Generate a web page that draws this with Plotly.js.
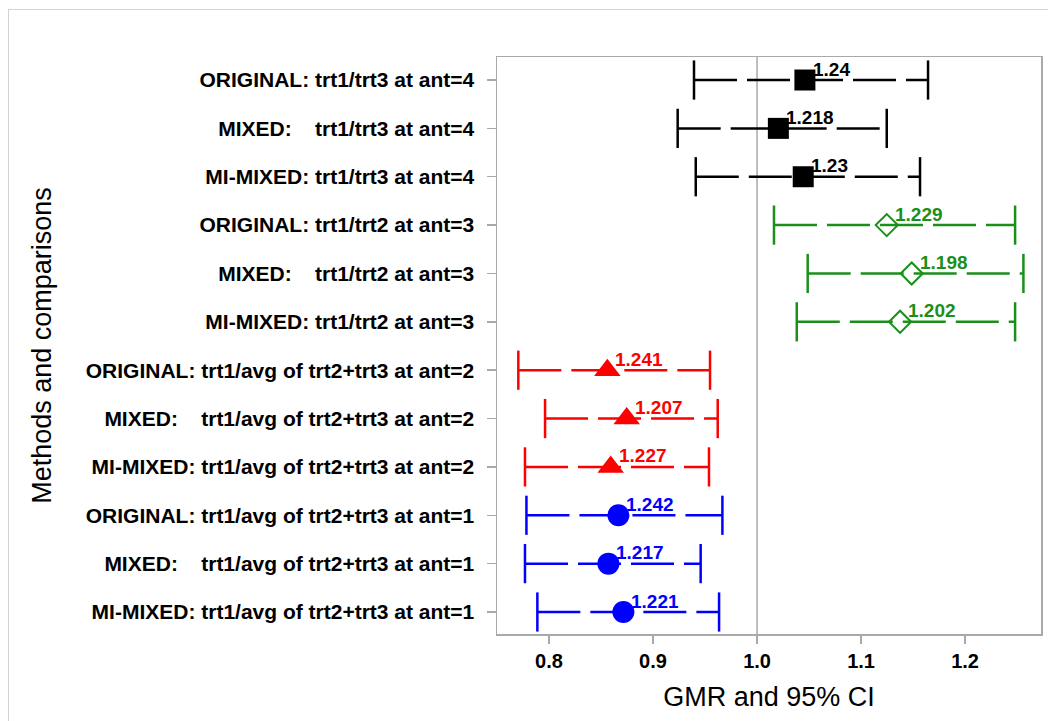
<!DOCTYPE html>
<html><head><meta charset="utf-8">
<script src="https://cdn.plot.ly/plotly-3.0.1.min.js"></script>
<style>
html,body{margin:0;padding:0;background:#fff;overflow:hidden}
#chart{position:absolute;left:0;top:0;width:1048px;height:721px}
#frame{position:absolute;left:8px;top:9px;width:1060px;height:760px;border:1px solid #d3d3d3;pointer-events:none}
</style></head><body>
<div id="chart"></div><div id="frame"></div>
<script>
const NB = '\u00A0';
const comparisons = [
  'ORIGINAL: trt1/trt3 at ant=4',
  'MIXED:' + NB.repeat(4) + 'trt1/trt3 at ant=4',
  'MI-MIXED: trt1/trt3 at ant=4',
  'ORIGINAL: trt1/trt2 at ant=3',
  'MIXED:' + NB.repeat(4) + 'trt1/trt2 at ant=3',
  'MI-MIXED: trt1/trt2 at ant=3',
  'ORIGINAL: trt1/avg of trt2+trt3 at ant=2',
  'MIXED:' + NB.repeat(4) + 'trt1/avg of trt2+trt3 at ant=2',
  'MI-MIXED: trt1/avg of trt2+trt3 at ant=2',
  'ORIGINAL: trt1/avg of trt2+trt3 at ant=1',
  'MIXED:' + NB.repeat(4) + 'trt1/avg of trt2+trt3 at ant=1',
  'MI-MIXED: trt1/avg of trt2+trt3 at ant=1'
];
const gmr   = [1.046, 1.0205, 1.0444, 1.1247, 1.1487, 1.1375, 0.8561, 0.8747, 0.8593, 0.8667, 0.8571, 0.8715];
const lower = [0.9394, 0.9237, 0.9411, 1.0163, 1.0487, 1.0382, 0.7705, 0.7962, 0.7769, 0.7783, 0.7769, 0.7888];
const upper = [1.1644, 1.1247, 1.1567, 1.2481, 1.2561, 1.2481, 0.9548, 0.9622, 0.9538, 0.9667, 0.9458, 0.9635];
const ciRatioLabels = ['1.24', '1.218', '1.23', '1.229', '1.198', '1.202', '1.241', '1.207', '1.227', '1.242', '1.217', '1.221'];
const groupOf = [0, 0, 0, 1, 1, 1, 2, 2, 2, 3, 3, 3];
const xTickVals = [0.8, 0.9, 1.0, 1.1, 1.2];
const xTickText = ['0.8', '0.9', '1.0', '1.1', '1.2'];
const refValue = 1.0;

const styles = [
  {color: '#000000', symbol: 'square', size: 21},
  {color: '#1a901a', symbol: 'diamond-open', size: 17},
  {color: '#ff0000', symbol: 'triangle-up', size: 23},
  {color: '#0000ff', symbol: 'circle', size: 22}
];
const FONT = '"Liberation Sans", Arial, sans-serif';

const traces = [];
const annotations = [];
styles.forEach((st, g) => {
  const rows = groupOf.map((v, i) => v === g ? i : -1).filter(i => i >= 0);
  const lx = [], ly = [], cx = [], cy = [];
  rows.forEach(i => {
    lx.push(lower[i], upper[i], null);
    ly.push(comparisons[i], comparisons[i], null);
    cx.push(lower[i], upper[i]);
    cy.push(comparisons[i], comparisons[i]);
  });
  traces.push({type: 'scatter', mode: 'lines', x: lx, y: ly, connectgaps: false,
    line: {color: st.color, width: 2.5, dash: '43px,10px'}, hoverinfo: 'skip'});
  traces.push({type: 'scatter', mode: 'markers', x: cx, y: cy,
    marker: {symbol: 'line-ns', size: 28, color: st.color, line: {color: st.color, width: 2.5}}, hoverinfo: 'skip'});
  traces.push({type: 'scatter', mode: 'markers', x: rows.map(i => gmr[i]), y: rows.map(i => comparisons[i]),
    marker: {symbol: st.symbol, size: st.size, color: st.color,
      line: {color: st.color, width: st.symbol.indexOf('open') >= 0 ? 2 : 0}}, hoverinfo: 'skip'});
  rows.forEach(i => {
    annotations.push({x: gmr[i], y: comparisons[i], xref: 'x', yref: 'y', text: ciRatioLabels[i],
      showarrow: false, xanchor: 'left', yanchor: 'middle', xshift: 6, yshift: 11,
      font: {family: FONT, size: 19, weight: 'bold', color: st.color}});
  });
});

const layout = {
  width: 1048, height: 721,
  paper_bgcolor: 'rgba(0,0,0,0)', plot_bgcolor: '#ffffff',
  margin: {l: 497, r: 7, t: 57, b: 87, pad: 0},
  showlegend: false, hovermode: false,
  xaxis: {range: [0.75, 1.273], tickmode: 'array', tickvals: xTickVals, ticktext: xTickText,
    showline: true, mirror: true, linecolor: '#a9a9a9', linewidth: 1.5,
    ticks: 'outside', ticklen: 8, tickcolor: '#a9a9a9', tickwidth: 1.5,
    showgrid: false, zeroline: false,
    tickfont: {family: FONT, size: 20, weight: 'bold', color: '#000'},
    title: {text: 'GMR and 95% CI', font: {family: FONT, size: 27, color: '#000'}, standoff: 16}},
  yaxis: {type: 'category', categoryorder: 'array', categoryarray: comparisons,
    range: [11.455, -0.476],
    showline: true, mirror: true, linecolor: '#a9a9a9', linewidth: 1.5,
    ticks: 'outside', ticklen: 9, tickcolor: '#a9a9a9', tickwidth: 1.5,
    ticklabelstandoff: 8,
    showgrid: false, zeroline: false,
    tickfont: {family: FONT, size: 21, weight: 'bold', color: '#000'},
    title: {text: 'Methods and comparisons', font: {family: FONT, size: 27, color: '#000'}, standoff: 26}},
  shapes: [{type: 'line', xref: 'x', yref: 'paper', x0: refValue, x1: refValue, y0: 0, y1: 1,
    line: {color: '#a9a9a9', width: 1.5}, layer: 'below'}],
  annotations: annotations
};

Plotly.newPlot('chart', traces, layout, {staticPlot: true, displayModeBar: false});
</script>
</body></html>
